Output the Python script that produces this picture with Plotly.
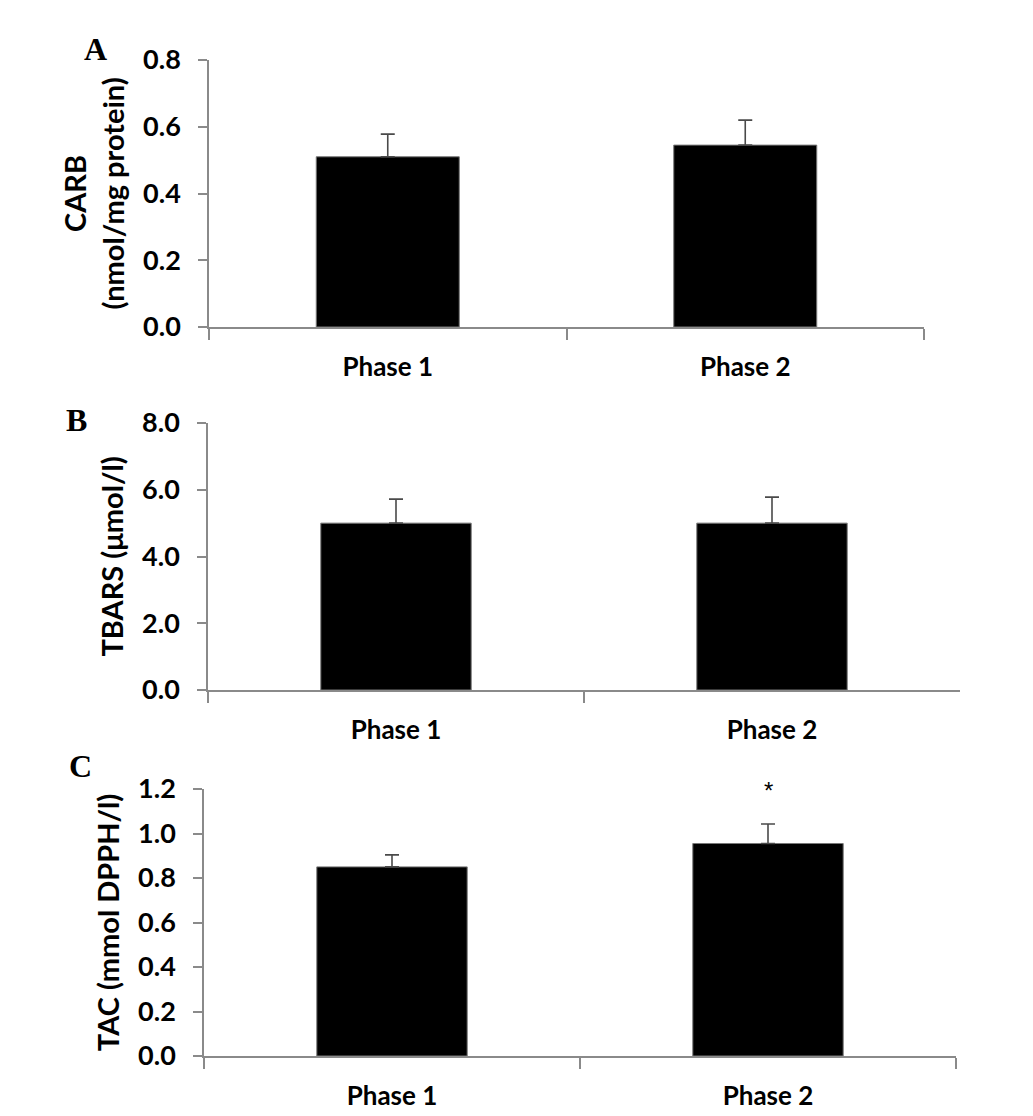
import plotly.graph_objects as go
from plotly.subplots import make_subplots

phases = ["Phase 1", "Phase 2"]

carb = [0.51, 0.545]
carb_err = [0.068, 0.075]

tbars = [5.0, 5.0]
tbars_err = [0.72, 0.78]

tac = [0.85, 0.955]
tac_err = [0.054, 0.088]

# the page puts the figure 8px in from the top-left corner
OFF = 8
W, H = 1033 - 2 * OFF, 1116 - 2 * OFF
axis_grey = "#8a8a8a"
font_main = "Lato"


def fx(px):
    return (px - OFF) / W


def fy(py):
    return 1 - (py - OFF) / H


fig = make_subplots(rows=3, cols=1)

# pixel boxes
panels = [
    (carb, carb_err, [0, 0.8], 0.2, "CARB<br>(nmol/mg protein)", (209, 924), (60, 327)),
    (tbars, tbars_err, [0, 8], 2, "TBARS (μmol/l)", (208, 960), (423, 690)),
    (tac, tac_err, [0, 1.2], 0.2, "TAC (mmol DPPH/l)", (204, 956), (789, 1056)),
]

for i, (vals, errs, rng, dt, title, xpx, ypx) in enumerate(panels, start=1):
    fig.add_trace(go.Bar(
        x=phases, y=vals, width=0.4,
        marker=dict(color="black", line=dict(color="#777777", width=1)),
        error_y=dict(type="data", array=errs, arrayminus=[0] * len(errs), symmetric=False,
                     color="#4a4a4a", thickness=1.6, width=7),
        showlegend=False,
    ), row=i, col=1)
    fig.update_xaxes(
        domain=[fx(xpx[0]), fx(xpx[1])],
        showline=True, linecolor=axis_grey, linewidth=1.5,
        ticks="outside", tickson="boundaries", ticklen=11, tickcolor=axis_grey, tickwidth=1.5,
        tickfont=dict(family=font_main, size=26, color="black", weight="bold"),
        ticklabelstandoff=16, automargin=False,
        showgrid=False, zeroline=False,
        row=i, col=1)
    fig.update_yaxes(
        domain=[fy(ypx[1]), fy(ypx[0])],
        range=rng, dtick=dt, tick0=0, tickformat=".1f",
        showline=True, linecolor=axis_grey, linewidth=1.5,
        ticks="outside", ticklen=9, tickcolor=axis_grey, tickwidth=1.5,
        tickfont=dict(family=font_main, size=27, color="black", weight="bold"),
        ticklabelstandoff=12, automargin=False,
        showgrid=False, zeroline=False,
        title=dict(text=title, standoff=10,
                   font=dict(family=font_main, size=29, color="black", weight="bold")),
        row=i, col=1)

# significance marker on panel C
fig.add_annotation(x="Phase 2", y=tac[1] + tac_err[1], xref="x3", yref="y3",
                   text="*", showarrow=False, yanchor="bottom", yshift=18,
                   font=dict(family="Liberation Sans", size=24, color="black"))

# panel letters
for letter, px, py in [("A", 95, 49), ("B", 76, 420), ("C", 80, 766)]:
    fig.add_annotation(x=fx(px), y=fy(py), xref="paper", yref="paper",
                       text=letter, showarrow=False, xanchor="center", yanchor="middle",
                       font=dict(family="Liberation Serif", size=32, color="black", weight="bold"))

fig.update_layout(
    width=W, height=H,
    margin=dict(l=0, r=0, t=0, b=0),
    paper_bgcolor="white", plot_bgcolor="white",
)

fig.write_html("out.html")
